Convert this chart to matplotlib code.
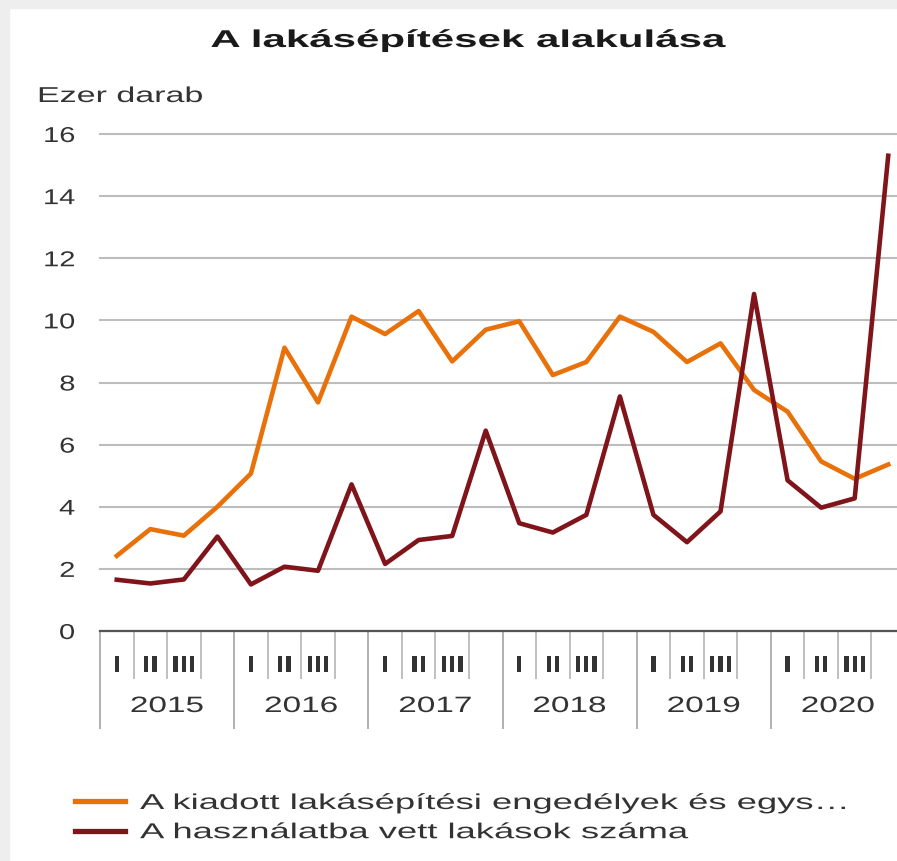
import numpy as np
import matplotlib
matplotlib.use("Agg")
import matplotlib.pyplot as plt
from matplotlib.patheffects import AbstractPathEffect
from matplotlib.transforms import Affine2D
from matplotlib.patches import Rectangle

# ---------------- data ----------------
title = "A lakásépítések alakulása"
unit_label = "Ezer darab"
years = ["2015", "2016", "2017", "2018", "2019", "2020"]
quarter_labels = ["I", "II", "III", ""]
series_names = ["A kiadott lakásépítési engedélyek és egys…",
                "A használatba vett lakások száma"]
permits = [2.42, 3.28, 3.07, 4.00, 5.07, 9.12, 7.36, 10.12,
           9.56, 10.30, 8.68, 9.70, 9.97, 8.24, 8.66, 10.12,
           9.63, 8.66, 9.26, 7.76, 7.06, 5.46, 4.90, 5.36]
completed = [1.65, 1.53, 1.66, 3.04, 1.50, 2.07, 1.94, 4.72,
             2.16, 2.93, 3.06, 6.45, 3.47, 3.17, 3.74, 7.55,
             3.74, 2.86, 3.85, 10.85, 4.85, 3.97, 4.27, 15.30]
y_ticks = [0, 2, 4, 6, 8, 10, 12, 14, 16]


class HStretch(AbstractPathEffect):
    """Stretch text glyphs horizontally about an anchor (text stays a Text artist)."""
    def __init__(self, sx, anchor="left"):
        super().__init__()
        self.sx = sx
        self.anchor = anchor

    def draw_path(self, renderer, gc, tpath, affine, rgbFace=None):
        ext = tpath.get_extents(affine)
        if self.anchor == "left":
            x0 = ext.x0
        elif self.anchor == "right":
            x0 = ext.x1
        else:
            x0 = 0.5 * (ext.x0 + ext.x1)
        new = affine + Affine2D().translate(-x0, 0).scale(self.sx, 1).translate(x0, 0)
        renderer.draw_path(gc, tpath, new, rgbFace)


plt.rcParams["font.family"] = ["Liberation Sans", "DejaVu Sans"]

W, H = 897, 862
fig = plt.figure(figsize=(W / 100, H / 100), dpi=100)
fig.patch.set_facecolor("white")
fig.add_artist(Rectangle((0, 0), 9 / W, 1, transform=fig.transFigure,
                         color="#EEEEEE", zorder=-10))
fig.add_artist(Rectangle((0, 1 - 9 / H), 1, 9 / H, transform=fig.transFigure,
                         color="#EEEEEE", zorder=-10))

ax_top, ax_bot = 135, 632
ax_h = ax_bot - ax_top
ax = fig.add_axes([100 / W, 1 - ax_bot / H, 805 / W, ax_h / H])

n = len(permits)
x = np.arange(n)
ax.plot(x, permits, color="#E8710A", lw=3.3, solid_joinstyle="round",
        label=series_names[0], zorder=3)
ax.plot(x, completed, color="#7F151B", lw=3.3, solid_joinstyle="round",
        label=series_names[1], zorder=4)

ax.set_xlim(-0.5, n - 0.5)
ax.set_ylim(0, 16)
ax.set_yticks(y_ticks)
ax.set_yticklabels([str(v) for v in y_ticks])
ax.tick_params(axis="y", length=0, pad=18, labelsize=15.5, labelcolor="#333333")
ax.set_xticks([])
for s in ["top", "right", "left"]:
    ax.spines[s].set_visible(False)
ax.spines["bottom"].set_color("#555555")
ax.spines["bottom"].set_linewidth(1.6)
ax.grid(axis="y", color="#BDBDBD", lw=1.5)
ax.set_axisbelow(True)
for gl in ax.get_ygridlines():
    gl.set_clip_on(False)
for t in ax.get_yticklabels():
    t.set_path_effects([HStretch(1.35, "right")])

# category axis: year / quarter separators and labels
trans = ax.get_xaxis_transform()
year_bounds = np.arange(0, n + 1, 4) - 0.5
q_bounds = [b for b in np.arange(n) + 0.5 if int(b + 0.5) % 4 != 0]
ax.vlines(year_bounds, -(730 - ax_bot) / ax_h, 0, transform=trans,
          colors="#AAAAAA", lw=1.3, clip_on=False)
ax.vlines(q_bounds, -(680 - ax_bot) / ax_h, 0, transform=trans,
          colors="#BBBBBB", lw=1.3, clip_on=False)
for i in range(n):
    ql = quarter_labels[i % 4]
    if ql:
        ax.text(i, -(666 - ax_bot) / ax_h, ql, transform=trans, ha="center",
                va="center", fontsize=16.5, fontweight="bold", color="#333333",
                path_effects=[HStretch(1.3, "center")], clip_on=False)
for k, yr in enumerate(years):
    ax.text(4 * k + 1.5, -(713 - ax_bot) / ax_h, yr, transform=trans,
            ha="center", va="baseline", fontsize=16, color="#333333",
            path_effects=[HStretch(1.5, "center")], clip_on=False)

# title and unit
fig.text(468.5 / W, 1 - 48 / H, title, ha="center", va="baseline",
         fontsize=17.5, fontweight="bold", color="#1A1A1A",
         path_effects=[HStretch(1.73, "center")])
fig.text(38 / W, 1 - 103 / H, unit_label, ha="left", va="baseline",
         fontsize=15.5, color="#333333", path_effects=[HStretch(1.58, "left")])

# legend
leg = ax.legend(loc="upper left", bbox_to_anchor=(75 / W, 1 - 794 / H),
                bbox_transform=fig.transFigure, frameon=False, fontsize=15.5,
                handlelength=50 / 21.5, handletextpad=15 / 21.5, borderpad=0,
                borderaxespad=0, labelspacing=0.38)
for t in leg.get_texts():
    t.set_color("#333333")
    t.set_path_effects([HStretch(1.69, "left")])
for h in leg.get_lines():
    h.set_linewidth(3.8)

fig.savefig("out.png", dpi=100, facecolor=fig.get_facecolor())
